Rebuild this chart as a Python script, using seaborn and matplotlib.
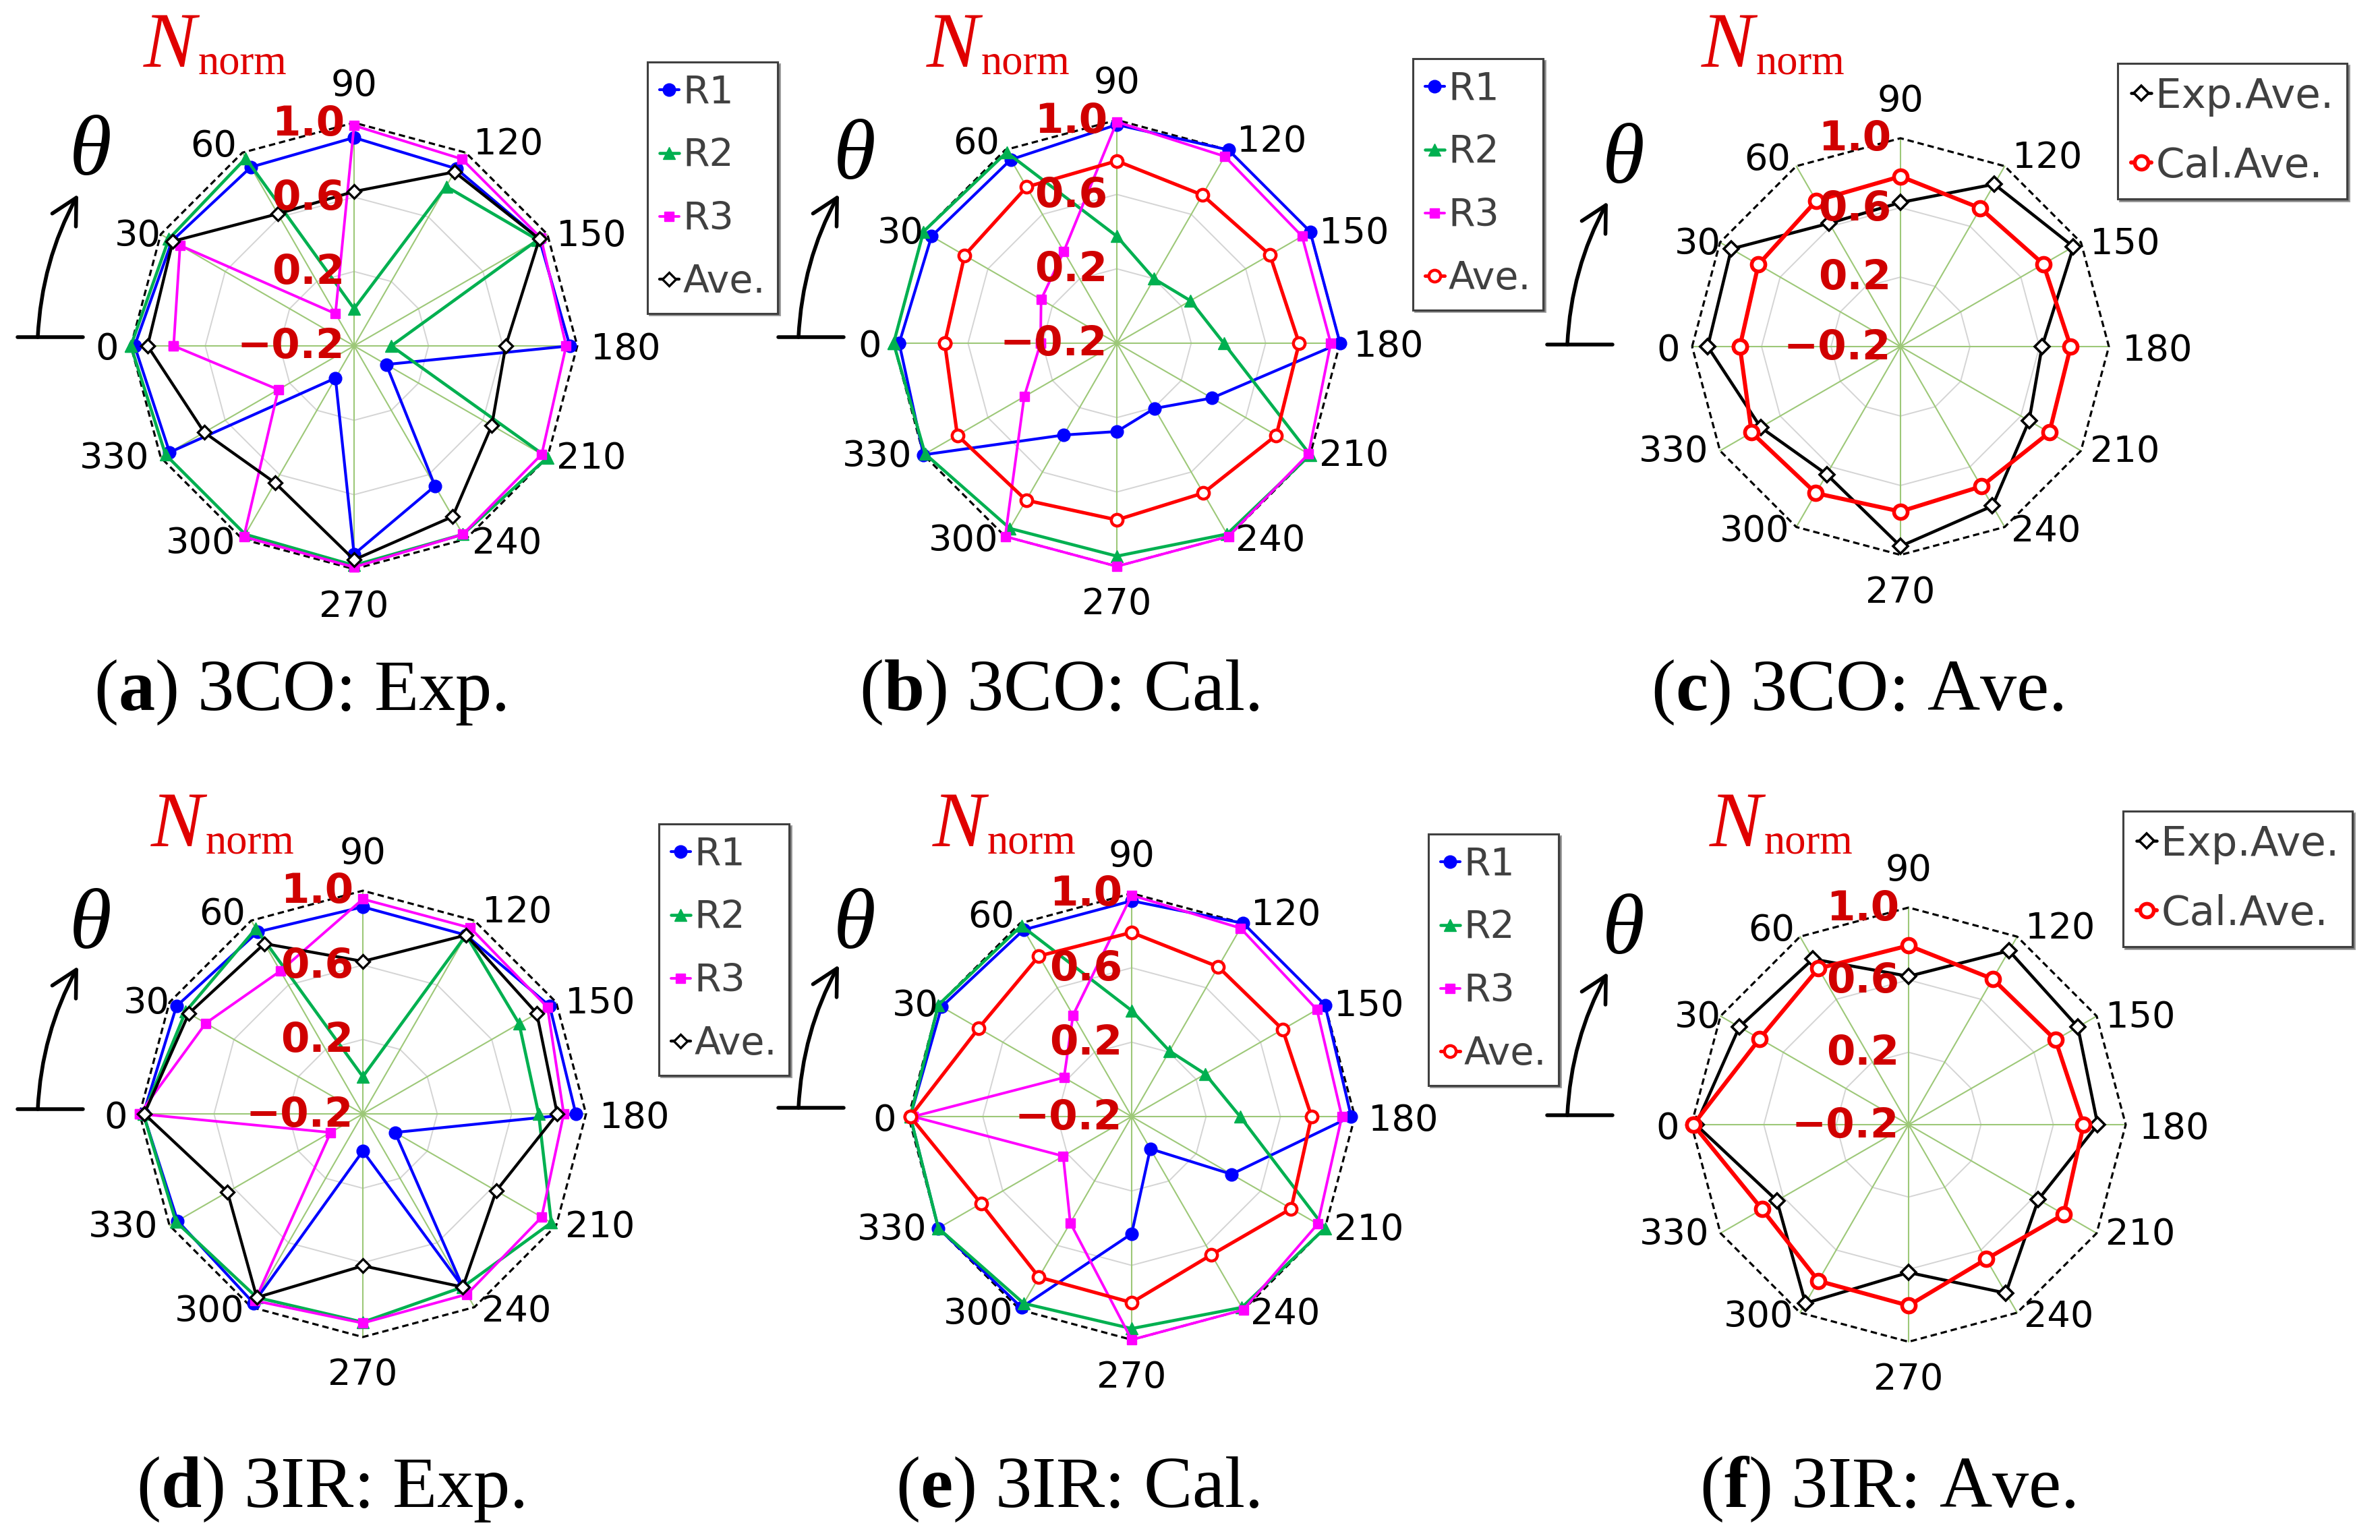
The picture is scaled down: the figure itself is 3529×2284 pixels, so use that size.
import numpy as np
import pandas as pd
import matplotlib
matplotlib.use("Agg")
import matplotlib.pyplot as plt
import seaborn as sns
from matplotlib.lines import Line2D
from matplotlib.transforms import offset_copy

# ── Data (normalised N at each angle θ) ───────────────────────────────────────
THETA = [0, 30, 60, 90, 120, 150, 180, 210, 240, 270, 300, 330]
R_TICKS = [-0.2, 0.2, 0.6, 1.0]
R_TICK_LABELS = ["\u22120.2", "0.2", "0.6", "1.0"]

# 3CO experiment
CO_EXP_R1 = [0.98, 0.93, 0.91, 0.92, 0.90, 0.95, 0.96, 0.00, 0.67, 0.92, 0.00, 0.945]
CO_EXP_R2 = [1.00, 0.95, 0.965, 0.00, 0.79, 0.94, 0.00, 1.00, 0.97, 0.98, 0.97, 0.97]
CO_EXP_R3 = [0.77, 0.88, 0.00, 0.985, 0.96, 0.96, 0.94, 0.965, 0.97, 0.99, 0.985, 0.27]
CO_EXP_AVE = [0.91, 0.925, 0.62, 0.63, 0.88, 0.95, 0.615, 0.655, 0.86, 0.95, 0.65, 0.73]

# 3CO calculation
CO_CAL_R1 = [0.97, 0.95, 0.94, 0.975, 1.00, 1.00, 1.00, 0.39, 0.205, 0.275, 0.37, 1.00]
CO_CAL_R2 = [1.00, 1.00, 0.985, 0.375, 0.20, 0.257, 0.375, 1.00, 0.985, 0.945, 0.95, 0.99]
CO_CAL_R3 = [0.21, 0.27, 0.37, 0.99, 0.96, 0.95, 0.95, 0.99, 1.00, 1.00, 1.00, 0.375]
CO_CAL_AVE = [0.725, 0.745, 0.77, 0.78, 0.72, 0.75, 0.78, 0.79, 0.73, 0.75, 0.775, 0.79]

# 3IR experiment
IR_EXP_R1 = [0.98, 0.957, 0.93, 0.913, 0.91, 0.96, 0.945, 0.00, 0.875, 0.00, 0.975, 0.95]
IR_EXP_R2 = [0.98, 0.90, 0.95, 0.00, 0.91, 0.77, 0.745, 0.97, 0.875, 0.92, 0.94, 0.96]
IR_EXP_R3 = [1.00, 0.775, 0.687, 0.955, 0.955, 0.946, 0.88, 0.91, 0.92, 0.925, 0.96, 0.00]
IR_EXP_AVE = [0.975, 0.88, 0.857, 0.62, 0.91, 0.88, 0.845, 0.628, 0.875, 0.617, 0.94, 0.64]

# 3IR calculation
IR_CAL_R1 = [0.99, 0.98, 0.96, 0.96, 1.00, 1.00, 0.98, 0.42, 0.00, 0.43, 0.985, 1.00]
IR_CAL_R2 = [0.99, 1.00, 0.985, 0.37, 0.207, 0.257, 0.383, 1.00, 0.985, 0.94, 0.96, 1.00]
IR_CAL_R3 = [0.975, 0.22, 0.43, 0.99, 0.97, 0.95, 0.93, 0.955, 1.00, 1.00, 0.46, 0.225]
IR_CAL_AVE = [0.99, 0.75, 0.797, 0.79, 0.73, 0.737, 0.767, 0.79, 0.658, 0.80, 0.797, 0.735]

# ── Styles ────────────────────────────────────────────────────────────────────
RED = "#ff0000"
LABEL_RED = "#d00000"
STYLES = {
    "r1": dict(color="#0000ff", marker="o", markersize=13.5, markerfacecolor="#0000ff",
               markeredgecolor="#0000ff", markeredgewidth=1, linewidth=3.0),
    "r2": dict(color="#00b050", marker="^", markersize=13.5, markerfacecolor="#00b050",
               markeredgecolor="#00b050", markeredgewidth=1, linewidth=3.3),
    "r3": dict(color="#ff00ff", marker="s", markersize=10.5, markerfacecolor="#ff00ff",
               markeredgecolor="#ff00ff", markeredgewidth=1, linewidth=2.8),
    "ave_exp": dict(color="black", marker="D", markersize=10.5, markerfacecolor="white",
                    markeredgecolor="black", markeredgewidth=2.4, linewidth=3.1),
    "ave_cal": dict(color=RED, marker="o", markersize=12.5, markerfacecolor="white",
                    markeredgecolor=RED, markeredgewidth=3.2, linewidth=3.7),
    "ave_exp_big": dict(color="black", marker="D", markersize=11.5, markerfacecolor="white",
                        markeredgecolor="black", markeredgewidth=2.6, linewidth=3.3),
    "ave_cal_big": dict(color=RED, marker="o", markersize=14.5, markerfacecolor="white",
                        markeredgecolor=RED, markeredgewidth=4.0, linewidth=4.4),
}

# angle label placement: pixel offset from the 1.0 vertex, alignment
ANGLE_LABEL = {
    0: (-18, 0, "right", "center_baseline"),
    30: (1, -17, "right", "baseline"),
    60: (-8, -6, "right", "baseline"),
    90: (0, 40, "center", "baseline"),
    120: (12, -3, "left", "baseline"),
    150: (13, -17, "left", "baseline"),
    180: (20, 0, "left", "center_baseline"),
    210: (13, 24, "left", "top"),
    240: (10, 20, "left", "top"),
    270: (0, -30, "center", "top"),
    300: (-10, 20, "right", "top"),
    330: (-17, 24, "right", "top"),
}

W, H = 3530, 2284

PANELS = [
    dict(center=(525, 513), radius=331, legend=(960, 92), big=False,
         series=[("R1", CO_EXP_R1, "r1"), ("R2", CO_EXP_R2, "r2"),
                 ("R3", CO_EXP_R3, "r3"), ("Ave.", CO_EXP_AVE, "ave_exp")],
         nnorm=(213, 99), bar=(26, 500), theta=(134, 228),
         tag="a", caption="3CO: Exp.", cap_xy=(445, 1027)),
    dict(center=(1656, 509), radius=331, legend=(2095, 87), big=False,
         series=[("R1", CO_CAL_R1, "r1"), ("R2", CO_CAL_R2, "r2"),
                 ("R3", CO_CAL_R3, "r3"), ("Ave.", CO_CAL_AVE, "ave_cal")],
         nnorm=(1374, 99), bar=(1154, 500), theta=(1267, 234),
         tag="b", caption="3CO: Cal.", cap_xy=(1571, 1027)),
    dict(center=(2818, 514), radius=309, legend=(3140, 94), big=True,
         series=[("Exp.Ave.", CO_EXP_AVE, "ave_exp_big"), ("Cal.Ave.", CO_CAL_AVE, "ave_cal_big")],
         nnorm=(2523, 99), bar=(2294, 511), theta=(2407, 240),
         tag="c", caption="3CO: Ave.", cap_xy=(2754, 1027)),
    dict(center=(538, 1652), radius=331, legend=(977, 1222), big=False,
         series=[("R1", IR_EXP_R1, "r1"), ("R2", IR_EXP_R2, "r2"),
                 ("R3", IR_EXP_R3, "r3"), ("Ave.", IR_EXP_AVE, "ave_exp")],
         nnorm=(224, 1255), bar=(26, 1645), theta=(134, 1375),
         tag="d", caption="3IR: Exp.", cap_xy=(490, 2209)),
    dict(center=(1678, 1656), radius=331, legend=(2118, 1237), big=False,
         series=[("R1", IR_CAL_R1, "r1"), ("R2", IR_CAL_R2, "r2"),
                 ("R3", IR_CAL_R3, "r3"), ("Ave.", IR_CAL_AVE, "ave_cal")],
         nnorm=(1383, 1255), bar=(1154, 1643), theta=(1267, 1375),
         tag="e", caption="3IR: Cal.", cap_xy=(1598, 2209)),
    dict(center=(2830, 1668), radius=322, legend=(3148, 1203), big=True,
         series=[("Exp.Ave.", IR_EXP_AVE, "ave_exp_big"), ("Cal.Ave.", IR_CAL_AVE, "ave_cal_big")],
         nnorm=(2535, 1255), bar=(2294, 1654), theta=(2407, 1383),
         tag="f", caption="3IR: Ave.", cap_xy=(2799, 2209)),
]

LEGEND_SMALL = dict(prop={"family": "DejaVu Sans", "size": 41}, handlelength=0.5,
                    handletextpad=0.1, labelspacing=0.68, borderpad=0.32)
LEGEND_BIG = dict(prop={"family": "DejaVu Sans", "size": 44}, handlelength=0.5,
                  handletextpad=0.1, labelspacing=0.72, borderpad=0.32)

sns.set_theme(style="white")
plt.rcParams["font.family"] = ["DejaVu Sans"]
plt.rcParams["mathtext.fontset"] = "custom"
plt.rcParams["mathtext.rm"] = "Liberation Serif"
plt.rcParams["mathtext.it"] = "Liberation Serif:italic"
plt.rcParams["mathtext.bf"] = "Liberation Serif:bold"

fig = plt.figure(figsize=(W / 100, H / 100), dpi=100)


def fig_frac(x, y):
    return x / W, 1 - y / H


def closed(vals):
    return list(vals) + [vals[0]]


ang_closed = np.deg2rad(closed(THETA))

for p in PANELS:
    cx, cy = p["center"]
    R = p["radius"]
    ax = fig.add_axes([(cx - R) / W, 1 - (cy + R) / H, 2 * R / W, 2 * R / H], projection="polar")
    ax.set_theta_zero_location("W")
    ax.set_theta_direction(-1)
    ax.patch.set_alpha(0)

    # grid: grey rings, dashed outer ring, green spokes
    for r in R_TICKS[1:3]:
        ax.plot(ang_closed, [r] * len(ang_closed), color="#d4d4d4", lw=1.4, zorder=1, clip_on=False)
    for t in THETA:
        ax.plot([np.deg2rad(t)] * 2, [R_TICKS[0], R_TICKS[-1]], color="#9dc878", lw=1.5,
                zorder=1, clip_on=False)
    ax.plot(ang_closed, [R_TICKS[-1]] * len(ang_closed), color="black", lw=2.3,
            ls=(0, (3, 1.8)), zorder=1.5, clip_on=False)

    # data series
    for label, vals, key in p["series"]:
        df = pd.DataFrame({"ang": ang_closed, "val": closed(vals)})
        sns.lineplot(data=df, x="ang", y="val", ax=ax, sort=False, estimator=None,
                     legend=False, label=label, clip_on=False, zorder=3, **STYLES[key])

    ax.set_ylim(R_TICKS[0], R_TICKS[-1])
    ax.set_xticks([])
    ax.set_yticks([])
    ax.grid(False)
    ax.set_xlabel("")
    ax.set_ylabel("")
    ax.spines["polar"].set_visible(False)

    # angle labels
    for t in THETA:
        dx, dy, ha, va = ANGLE_LABEL[t]
        tr = offset_copy(ax.transData, fig=fig, x=dx, y=dy, units="dots")
        ax.text(np.deg2rad(t), R_TICKS[-1], str(t), transform=tr, ha=ha, va=va,
                fontsize=39, color="black", zorder=5, clip_on=False)

    # radial labels (red, bold)
    tr = offset_copy(ax.transData, fig=fig, x=-14, y=-2, units="dots")
    for r, lab in zip(R_TICKS, R_TICK_LABELS):
        ax.text(np.deg2rad(90), r, lab, transform=tr, ha="right", va="center",
                fontsize=44, fontweight="bold", color=LABEL_RED, zorder=6, clip_on=False)

    # legend
    handles, labels = ax.get_legend_handles_labels()
    lx, ly = fig_frac(*p["legend"])
    leg = fig.legend(handles, labels, loc="upper left", bbox_to_anchor=(lx, ly),
                     bbox_transform=fig.transFigure, borderaxespad=0, fancybox=False,
                     shadow=True, framealpha=1, edgecolor="#404040", labelcolor="#404040",
                     numpoints=1, **(LEGEND_BIG if p["big"] else LEGEND_SMALL))
    leg.get_frame().set_linewidth(2.2)

    # N_norm title
    nx, ny = fig_frac(*p["nnorm"])
    tN = fig.text(nx, ny, "N", ha="left", va="baseline", fontsize=84, style="italic",
                  family="Liberation Serif", color="#e00000")
    ax.annotate("norm", xy=(1, 0), xycoords=tN, xytext=(2, 0), textcoords="offset points",
                ha="left", va="bottom", fontsize=45, family="Liberation Serif",
                color="#e00000", annotation_clip=False)

    # theta symbol with curved arrow
    bx, by = p["bar"]
    fig.add_artist(Line2D([bx / W, (bx + 97) / W], [1 - by / H] * 2,
                          transform=fig.transFigure, color="black", lw=4))
    ax.annotate("", xy=(bx + 90, H - (by - 212)), xycoords="figure pixels",
                xytext=(bx + 30, H - by), textcoords="figure pixels",
                arrowprops=dict(arrowstyle="->,head_length=0.85,head_width=0.45",
                                connectionstyle="arc3,rad=-0.115", lw=4, color="black",
                                shrinkA=0, shrinkB=0, mutation_scale=32),
                annotation_clip=False)
    tx, ty = fig_frac(*p["theta"])
    fig.text(tx, ty, "\u03b8", ha="center", va="center", fontsize=92, style="italic",
             family="Liberation Serif", color="black")

    # caption
    capx, capy = fig_frac(*p["cap_xy"])
    fig.text(capx, capy, "($\\mathbf{" + p["tag"] + "}$) " + p["caption"], ha="center",
             va="center", fontsize=78, family="Liberation Serif", color="black")

fig.savefig("out.png", dpi=100, facecolor="white")
